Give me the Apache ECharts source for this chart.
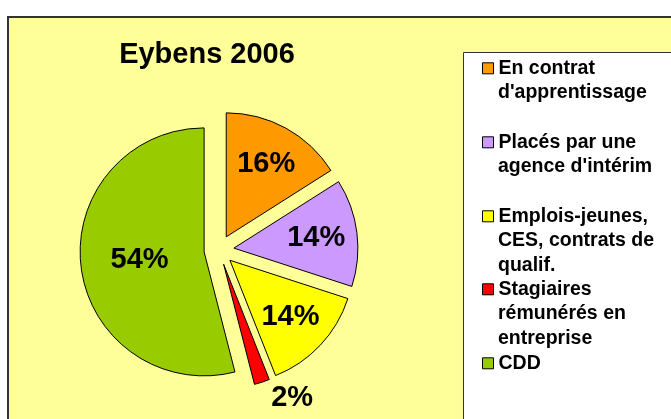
<!DOCTYPE html>
<html>
<head>
<meta charset="utf-8">
<title>Eybens 2006</title>
<script src="https://cdn.jsdelivr.net/npm/echarts@6/dist/echarts.min.js"></script>
<style>
  html, body { margin: 0; padding: 0; background: #fff; }
  #chart { width: 671px; height: 419px; }
</style>
</head>
<body>
<div id="chart"></div>
<script type="text/javascript">
// données
var categories = ["En contrat d'apprentissage", "Placés par une agence d'intérim",
    "Emplois-jeunes, CES, contrats de qualif.", "Stagiaires rémunérés en entreprise", "CDD"];
var legendLines = [
    ["En contrat", "d'apprentissage"],
    ["Placés par une", "agence d'intérim"],
    ["Emplois-jeunes,", "CES, contrats de", "qualif."],
    ["Stagiaires", "rémunérés en", "entreprise"],
    ["CDD"]
];
var shares = [16, 14, 14, 2, 54];
var colors = ['#FF9900', '#CC99FF', '#FFFF00', '#FF0000', '#99CC00'];

var font = 'Arial, "Liberation Sans", sans-serif';
var center = [219, 250];
var legendIconY = [67, 141, 215, 288, 362];
var lineH = 24.6;

var chart = echarts.init(document.getElementById('chart'));

// série principale : secteurs, étiquette 54% (intérieur) et 2% (extérieur)
var mainData = categories.map(function (name, i) {
    var item = {name: name, value: shares[i], selected: true, itemStyle: {color: colors[i]}};
    if (i === 4) {
        item.label = {show: true, position: 'inside'};
    } else if (i === 3) {
        item.label = {show: true, position: 'outside', distanceToLabelLine: 4};
        item.labelLine = {show: false, length: 17, length2: 0};
    } else {
        item.label = {show: false};
    }
    return item;
});

// série transparente : étiquettes des petits secteurs plus loin du centre
var labelData = categories.map(function (name, i) {
    return {
        name: name, value: shares[i], selected: true,
        label: {show: i < 3, position: 'inside'}
    };
});

var pctLabel = {
    formatter: '{c}%',
    color: '#000',
    fontFamily: font,
    fontWeight: 'bold',
    fontSize: 29
};

var legendText = {
    fontFamily: font,
    fontWeight: 'bold',
    fontSize: 19.5,
    color: '#000',
    lineHeight: lineH
};

// légende : première ligne avec le carré, les suites sans carré
var legends = [];
categories.forEach(function (name, i) {
    legends.push({
        data: [name],
        left: 482,
        top: legendIconY[i] - 11,
        padding: 0,
        icon: 'rect',
        itemWidth: 11,
        itemHeight: 11,
        selectedMode: false,
        itemStyle: {borderColor: '#000', borderWidth: 1},
        formatter: function () { return legendLines[i][0]; },
        textStyle: legendText
    });
    if (legendLines[i].length > 1) {
        legends.push({
            data: [name],
            left: 482,
            top: legendIconY[i] + lineH - 11,
            padding: 0,
            icon: 'none',
            itemWidth: 11,
            itemHeight: 11,
            selectedMode: false,
            formatter: function () { return legendLines[i].slice(1).join('\n'); },
            textStyle: legendText
        });
    }
});

var option = {
    backgroundColor: '#ffffff',
    animation: false,
    graphic: [
        {
            type: 'rect', z: -10,
            shape: {x: 8, y: 17, width: 700, height: 440},
            style: {fill: '#FFFF99', stroke: '#333333', lineWidth: 2}
        },
        {
            type: 'rect', z: -9,
            shape: {x: 463.5, y: 52.5, width: 260, height: 420},
            style: {fill: '#FFFFFF', stroke: '#333333', lineWidth: 1}
        }
    ],
    title: {
        text: 'Eybens 2006',
        left: 202,
        top: 35,
        textAlign: 'center',
        textStyle: {fontFamily: font, fontWeight: 'bold', fontSize: 29, color: '#000'}
    },
    legend: legends,
    series: [
        {
            name: 'Eybens 2006',
            type: 'pie',
            center: center,
            radius: 124,
            startAngle: 90,
            selectedMode: 'multiple',
            selectedOffset: 15,
            avoidLabelOverlap: false,
            emphasis: {disabled: true},
            itemStyle: {borderColor: '#000', borderWidth: 1},
            select: {itemStyle: {borderColor: '#000', borderWidth: 1}},
            label: pctLabel,
            data: mainData
        },
        {
            name: 'labels',
            type: 'pie',
            center: center,
            radius: 160,
            startAngle: 90,
            selectedMode: 'multiple',
            selectedOffset: 15,
            silent: true,
            legendHoverLink: false,
            avoidLabelOverlap: false,
            emphasis: {disabled: true},
            itemStyle: {color: 'rgba(0,0,0,0)', borderWidth: 0},
            select: {itemStyle: {color: 'rgba(0,0,0,0)', borderWidth: 0}},
            labelLine: {show: false},
            label: pctLabel,
            data: labelData
        }
    ]
};

chart.setOption(option);
</script>
</body>
</html>
